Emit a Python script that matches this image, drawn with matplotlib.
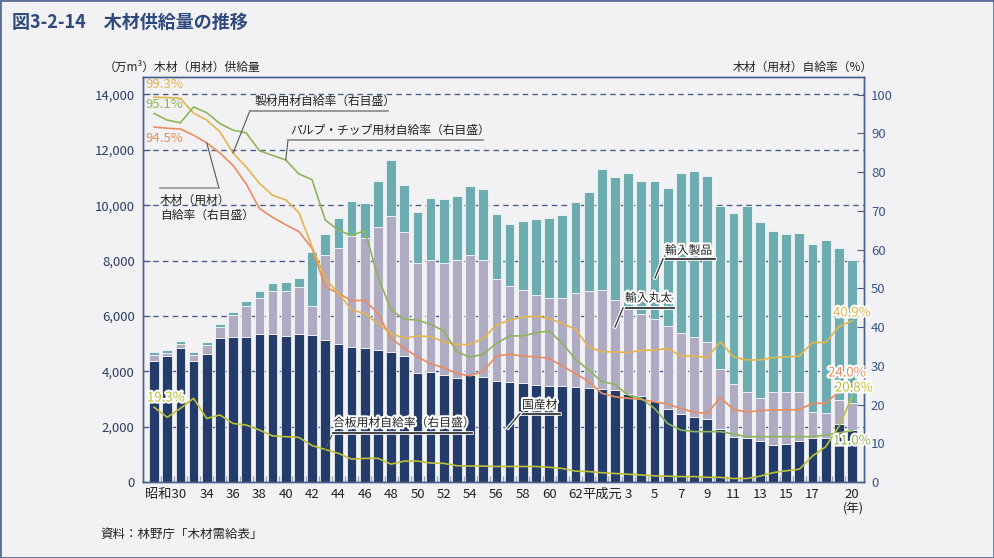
import numpy as np
import matplotlib.pyplot as plt
import matplotlib.patheffects as pe
from matplotlib.lines import Line2D
from matplotlib.patches import Rectangle
from matplotlib.transforms import ScaledTranslation

plt.rcParams['font.family'] = ['Noto Sans CJK JP', 'DejaVu Sans']

# 昭和30年(1955) - 平成20年(2008)
years = list(range(1955, 2009))

# 木材（用材）供給量（万m3）
domestic = [4370, 4560, 4840, 4370, 4610, 5190, 5230, 5230, 5340, 5340,
            5290, 5340, 5310, 5130, 4980, 4880, 4850, 4780, 4690, 4550,
            3920, 3990, 3850, 3770, 3850, 3810, 3650, 3620, 3560, 3490,
            3480, 3480, 3420, 3400, 3370, 3340, 3190, 3100, 2920, 2640,
            2440, 2360, 2260, 1910, 1640, 1600, 1480, 1350, 1370, 1480,
            1580, 1600, 2080, 1880]
import_logs = [220, 110, 160, 220, 340, 410, 810, 1120, 1320, 1550,
               1600, 1710, 1050, 3070, 3480, 3990, 3970, 4430, 4930, 4490,
               3990, 4020, 4070, 4250, 4340, 4200, 3680, 3450, 3380, 3250,
               3180, 3180, 3420, 3500, 3550, 3220, 3140, 2960, 2960, 3010,
               2960, 2890, 2780, 2170, 1890, 1640, 1560, 1910, 1870, 1780,
               940, 910, 890, 980]
import_products = [100, 100, 100, 100, 100, 100, 100, 190, 240, 310,
                   340, 310, 1960, 760, 1080, 1290, 1260, 1660, 2010, 1680,
                   1840, 2250, 2310, 2300, 2500, 2560, 2350, 2240, 2500, 2770,
                   2880, 3000, 3270, 3560, 4380, 4450, 4850, 4800, 4980, 4970,
                   5770, 6000, 6000, 5900, 6180, 6740, 6340, 5810, 5710, 5740,
                   6080, 6220, 5470, 5150]

# 自給率（%）
rate_sawn = [99.3, 99.2, 99.0, 95.2, 93.4, 90.4, 84.9, 81.3, 77.1, 74.0,
             72.8, 69.5, 60.7, 52.5, 48.7, 44.4, 43.5, 40.9, 38.3, 37.1,
             37.7, 37.5, 36.2, 35.5, 35.5, 37.1, 40.5, 41.8, 42.6, 42.8,
             42.2, 40.9, 39.4, 34.9, 33.6, 33.6, 33.4, 34.0, 34.0, 34.5,
             32.5, 32.5, 32.1, 36.2, 32.3, 31.5, 31.5, 32.1, 32.3, 32.5,
             36.0, 36.0, 40.1, 41.6]
rate_pulp = [95.1, 93.4, 92.7, 96.8, 95.3, 92.5, 90.8, 90.1, 85.5, 84.3,
             83.1, 79.5, 78.0, 67.6, 65.0, 63.6, 64.9, 53.0, 44.4, 42.0,
             41.8, 40.7, 39.0, 33.6, 32.2, 33.0, 35.8, 37.7, 37.7, 38.5,
             39.0, 35.8, 31.7, 28.9, 25.9, 25.2, 22.4, 21.6, 19.0, 15.1,
             13.4, 13.0, 13.0, 13.0, 12.4, 11.7, 11.7, 11.7, 11.7, 11.7,
             11.7, 12.1, 12.7, 13.2]
rate_total = [91.6, 91.3, 91.1, 89.5, 87.5, 84.9, 81.7, 76.9, 70.6, 68.3,
              66.4, 64.6, 60.3, 50.4, 48.7, 46.8, 46.9, 43.5, 37.1, 34.5,
              32.3, 30.5, 29.5, 28.0, 27.4, 28.6, 32.5, 33.0, 32.5, 32.3,
              31.9, 29.9, 28.0, 25.9, 22.9, 22.0, 21.6, 21.3, 20.7, 20.1,
              19.0, 18.0, 17.7, 21.8, 18.7, 18.1, 18.4, 18.6, 18.6, 18.7,
              20.3, 20.3, 23.3, 25.5]
rate_plywood = [19.3, 16.7, 19.0, 21.6, 16.4, 17.3, 15.1, 14.7, 13.4, 11.9,
                11.7, 11.5, 9.4, 8.4, 7.4, 5.9, 6.1, 6.1, 4.6, 5.4,
                5.4, 4.9, 4.8, 4.2, 4.1, 4.1, 4.0, 4.0, 4.0, 4.0,
                3.8, 3.5, 2.8, 2.7, 2.4, 2.2, 2.0, 1.8, 1.6, 1.5,
                1.4, 1.4, 1.2, 1.2, 0.9, 0.9, 1.5, 2.4, 2.9, 3.3,
                6.7, 9.1, 14.3, 22.0]

tick_years = [1955] + list(range(1959, 1988, 2)) + [1989] + list(range(1991, 2006, 2)) + [2008]
tick_labels = ['昭和30'] + [str(y - 1925) for y in range(1959, 1988, 2)] + ['平成元'] + \
              [str(y - 1988) for y in range(1991, 2006, 2)] + ['20']

NAVY = '#233c6a'
LAV = '#aeabc3'
TEAL = '#6dadb1'
C_SAWN = '#e5b54a'
C_PULP = '#8fb55a'
C_TOTAL = '#ec8c5c'
C_PLY = '#bdbf36'
BG = '#f2f2f5'
AXC = '#4a5e8c'
TXT = '#222222'

W, H = 994, 558
def fx(x):
    return x / W
def fy(y):
    return 1 - y / H

fig = plt.figure(figsize=(9.94, 5.58), dpi=100, facecolor=BG)
ax = fig.add_axes([fx(143), fy(482), fx(864) - fx(143), fy(77) - fy(482)])
ax.set_facecolor(BG)

x = np.array(years)
dom = np.array(domestic)
logs = np.array(import_logs)
prod = np.array(import_products)
bw = 0.74
ax.bar(x, dom, bw, color=NAVY, edgecolor='white', linewidth=0.5, zorder=2)
ax.bar(x, logs, bw, bottom=dom, color=LAV, edgecolor='white', linewidth=0.5, zorder=2)
ax.bar(x, prod, bw, bottom=dom + logs, color=TEAL, edgecolor='white', linewidth=0.5, zorder=2)

for v in range(2000, 14001, 2000):
    ax.axhline(v, color=AXC, lw=1, ls=(0, (4, 3)), zorder=0.5)

ax.set_xlim(1954.16, 2008.91)
ax.set_ylim(0, 14632)
ax.set_yticks(range(0, 14001, 2000))
ax.set_yticklabels([f'{v:,}' for v in range(0, 14001, 2000)])
ax.tick_params(axis='y', direction='in', length=5, color=AXC, labelsize=9.5,
               labelcolor='#2b3d63', pad=6)
ax.set_xticks(tick_years)
ax.set_xticklabels(tick_labels)
ax.set_xticks([y + 0.5 for y in years[:-1]], minor=True)
ax.tick_params(axis='x', which='major', length=0, labelsize=9.5, labelcolor=TXT, pad=4)
ax.tick_params(axis='x', which='minor', direction='in', length=4, color='#9ea3b8', width=1)
first = ax.get_xticklabels()[0]
first.set_ha('left')
first.set_transform(first.get_transform() + ScaledTranslation(-9 / 100, 0, fig.dpi_scale_trans))
for s in ax.spines.values():
    s.set_color(AXC)
    s.set_linewidth(1)

ax2 = ax.twinx()
ax2.patch.set_visible(False)
ax2.set_ylim(0, 104.52)
ax2.set_yticks(range(0, 101, 10))
ax2.tick_params(axis='y', direction='in', length=5, color=AXC, labelsize=9.5,
                labelcolor='#3a5488', pad=5)
for s in ax2.spines.values():
    s.set_color(AXC)
    s.set_linewidth(1)

ax2.plot(x, rate_total, color=C_TOTAL, lw=1.2)
ax2.plot(x, rate_sawn, color=C_SAWN, lw=1.2)
ax2.plot(x, rate_pulp, color=C_PULP, lw=1.2)
ax2.plot(x, rate_plywood, color=C_PLY, lw=1.2)

halo = [pe.withStroke(linewidth=3, foreground='white')]
line_halo = [pe.withStroke(linewidth=2.6, foreground='white'), pe.Normal()]

def text(px, py, s, color=TXT, size=8.5, with_halo=False, **kw):
    t = fig.text(fx(px), fy(py), s, color=color, fontsize=size, va='center', ha='left', **kw)
    if with_halo:
        t.set_path_effects(halo)
    return t

def underline(x0, x1, y, color='#888888', with_halo=False):
    ln = Line2D([fx(x0), fx(x1)], [fy(y), fy(y)], transform=fig.transFigure, color=color, lw=1.2)
    if with_halo:
        ln.set_path_effects(line_halo)
    fig.add_artist(ln)

def leader_to(year, series, px, py):
    ax2.annotate('', xy=(year, series[years.index(year)]), xycoords='data',
                 xytext=(fx(px), fy(py)), textcoords='figure fraction',
                 arrowprops=dict(arrowstyle='-', color='#555555', lw=0.8, shrinkA=0, shrinkB=0))

def leader_px(x0, y0, x1, y1):
    ln = Line2D([fx(x0), fx(x1)], [fy(y0), fy(y1)], transform=fig.transFigure, color='#444444', lw=0.8)
    ln.set_path_effects(line_halo)
    fig.add_artist(ln)

# line labels
text(255, 101, '製材用材自給率（右目盛）')
underline(250, 388, 110.5)
leader_to(1961, rate_sawn, 250, 110.5)

text(290, 130.5, 'パルプ・チップ用材自給率（右目盛）')
underline(288, 483, 140)
leader_to(1965, rate_pulp, 288, 140)

text(160, 200, '木材（用材）')
text(160, 215, '自給率（右目盛）')
underline(160, 219, 188.3, color='#999999')
leader_to(1959, rate_total, 219, 188.3)

text(333, 423, '合板用材自給率（右目盛）', with_halo=True)
underline(333, 472, 433, color='#444444', with_halo=True)
leader_to(1968, rate_plywood, 333, 433)

text(522, 405, '国産材', with_halo=True)
underline(520, 560, 413.5, color='#444444', with_halo=True)
leader_px(520, 413.5, 508, 428)

text(625, 298, '輸入丸太', with_halo=True)
underline(623, 674, 308, color='#444444', with_halo=True)
leader_px(623, 308, 615, 327)

text(665, 250.5, '輸入製品', with_halo=True)
underline(663, 715, 259, color='#444444', with_halo=True)
leader_px(663, 259, 655, 278)

# value labels
text(145, 85, '99.3%', color=C_SAWN, size=9.5)
text(145, 104, '95.1%', color=C_PULP, size=9.5)
text(145, 138, '94.5%', color=C_TOTAL, size=9.5)
text(147, 398, '19.3%', color=C_PLY, size=9.5, with_halo=True)
text(833, 313, '40.9%', color=C_SAWN, size=9.5, with_halo=True)
text(828, 373, '24.0%', color=C_TOTAL, size=9.5, with_halo=True)
text(835, 388, '20.8%', color=C_PLY, size=9.5, with_halo=True)
text(833, 441, '11.0%', color=C_PULP, size=9.5, with_halo=True)

# titles and notes
text(12, 22, '図3-2-14　木材供給量の推移', color='#2e4a7d', size=13, fontweight='bold')
text(104, 67, '（万m³）木材（用材）供給量', size=8.5)
fig.text(fx(873), fy(67), '木材（用材）自給率（%）', color=TXT, fontsize=8.5, va='center', ha='right')
fig.text(fx(853), fy(509), '(年)', color=TXT, fontsize=9, va='center', ha='center')
text(100, 534, '資料：林野庁「木材需給表」', size=9)

fig.add_artist(Rectangle((0, 0), 1, 1, transform=fig.transFigure, fill=False,
                         edgecolor='#5b6f98', linewidth=2))

fig.savefig('out.png', dpi=100, facecolor=BG)
